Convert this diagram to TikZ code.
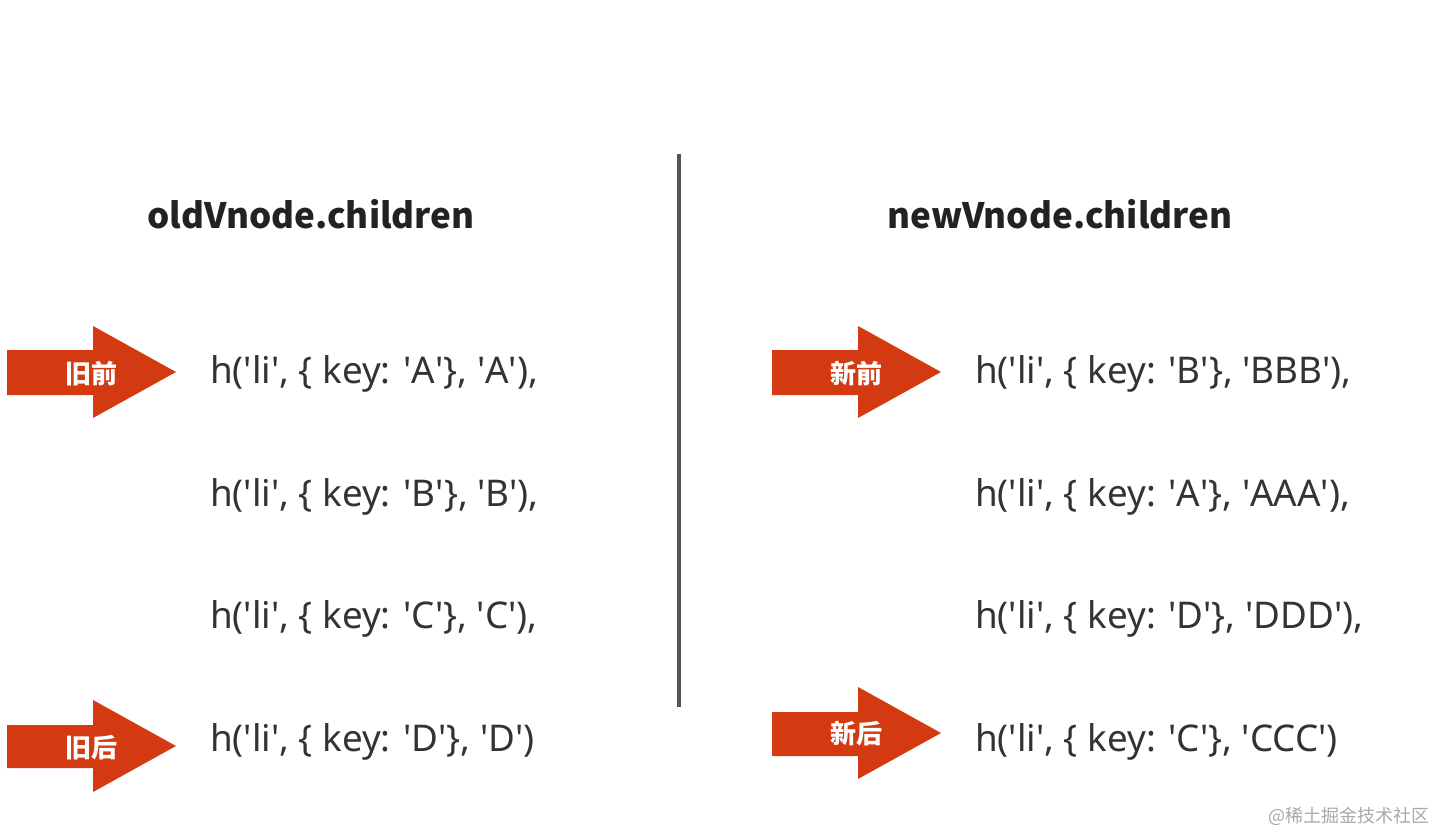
\documentclass[tikz,border=0pt]{standalone}
\usepackage{fontspec}
\setmainfont{Noto Sans CJK SC}
\newfontfamily\codefont{Noto Sans}
\newcommand\sq{\textquotesingle}
\usepackage{xcolor}
\definecolor{pointred}{HTML}{D33A11}
\definecolor{codegray}{HTML}{333333}
\definecolor{titlegray}{HTML}{222222}
\definecolor{divgray}{HTML}{555555}
\definecolor{markgray}{HTML}{A8A8A8}

\begin{document}
\begin{tikzpicture}[x=1pt,y=-1pt]
    \tikzset{code/.style = {anchor=base west, inner sep=0, text=codegray, font=\codefont\fontsize{36.8}{40}\selectfont}}
    \tikzset{title/.style = {anchor=base, inner sep=0, text=titlegray, font=\fontsize{35}{40}\selectfont\bfseries}}
    \tikzset{pointer/.style = {fill=pointred}}
    \tikzset{tag/.style = {text=white, inner sep=0, font=\fontsize{26}{28}\selectfont\bfseries}}

    \useasboundingbox (0,0) rectangle (1435,832);

    % titles
    \node[title] (oldtitle) at (311,228) {oldVnode.children};
    \node[title] (newtitle) at (1060,228) {newVnode.children};

    % divider
    \draw[line width=4pt, divgray] (679,154) -- (679,707);

    % old children
    \node[code] (oldA) at (210,383) {h(\sq li\sq, \{ key: \sq A\sq\}, \sq A\sq),};
    \node[code] (oldB) at (210,506) {h(\sq li\sq, \{ key: \sq B\sq\}, \sq B\sq),};
    \node[code] (oldC) at (210,628) {h(\sq li\sq, \{ key: \sq C\sq\}, \sq C\sq),};
    \node[code] (oldD) at (210,751) {h(\sq li\sq, \{ key: \sq D\sq\}, \sq D\sq)};

    % new children
    \node[code] (newB) at (975,383) {h(\sq li\sq, \{ key: \sq B\sq\}, \sq BBB\sq),};
    \node[code] (newA) at (975,506) {h(\sq li\sq, \{ key: \sq A\sq\}, \sq AAA\sq),};
    \node[code] (newD) at (975,628) {h(\sq li\sq, \{ key: \sq D\sq\}, \sq DDD\sq),};
    \node[code] (newC) at (975,751) {h(\sq li\sq, \{ key: \sq C\sq\}, \sq CCC\sq)};

    % pointers
    \fill[pointer] (7,350) -- (93,350) -- (93,326) -- (176,372) -- (93,418) -- (93,395) -- (7,395) -- cycle;
    \fill[pointer] (7,725) -- (93,725) -- (93,700) -- (176,746) -- (93,792) -- (93,768) -- (7,768) -- cycle;
    \fill[pointer] (772,350) -- (858,350) -- (858,326) -- (941,372) -- (858,418) -- (858,395) -- (772,395) -- cycle;
    \fill[pointer] (772,712) -- (858,712) -- (858,687) -- (941,733) -- (858,779) -- (858,756) -- (772,756) -- cycle;

    \node[tag] (oldstart) at (91,374) {旧前};
    \node[tag] (oldend) at (91,748) {旧后};
    \node[tag] (newstart) at (856,374) {新前};
    \node[tag] (newend) at (856,734) {新后};

    % watermark
    \node[anchor=east, inner sep=0, text=markgray, font=\fontsize{18}{20}\selectfont] (mark) at (1430,816) {@稀土掘金技术社区};
\end{tikzpicture}
\end{document}
